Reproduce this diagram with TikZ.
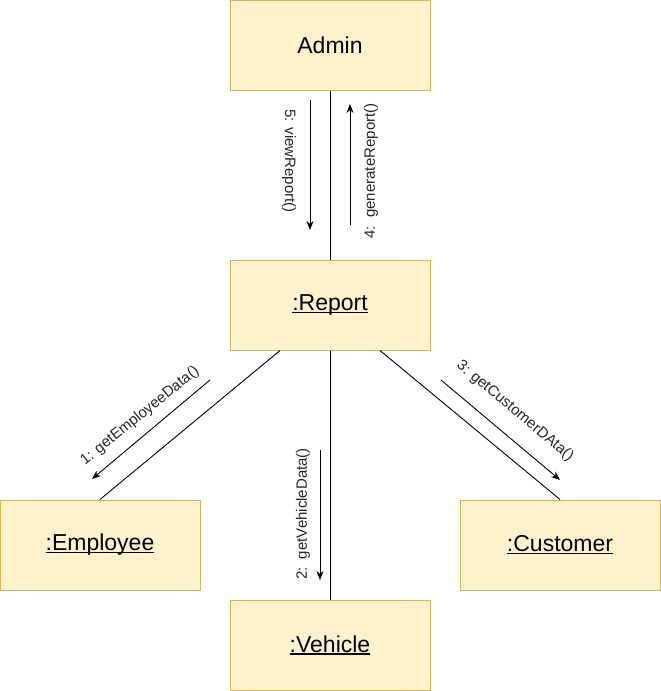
\documentclass[tikz,border=0pt]{standalone}
\usepackage{fontspec}
\setmainfont{Liberation Sans}
\usetikzlibrary{arrows.meta,calc}
\definecolor{boxfill}{HTML}{FFF2CC}
\definecolor{boxline}{HTML}{D6B656}
\newcommand\myul[1]{\setbox0\hbox{#1}\rlap{\rule[-2.5pt]{\wd0}{1.2pt}}\box0}
\begin{document}
\begin{tikzpicture}[x=1pt,y=-1pt,
  obj/.style={draw=boxline,fill=boxfill,line width=1pt,minimum width=200pt,minimum height=90pt,inner sep=0pt,font=\fontsize{23}{27}\selectfont},
  link/.style={draw=black,line width=0.9pt},
  msg/.style={draw=black,line width=0.9pt,-{Stealth[length=9pt,width=7pt]}},
  lbl/.style={font=\fontsize{15}{18}\selectfont,inner sep=0pt,text=black!85}]
\useasboundingbox (0,0) rectangle (661,691);
\node[obj] (adm) at (330,45) {Admin};
\node[obj] (rep) at (330,305) {\myul{:Report}};
\node[obj] (emp) at (100,545) {\myul{:Employee}};
\node[obj] (veh) at (330,645) {\myul{:Vehicle}};
\node[obj] (cus) at (560,545) {\myul{:Customer}};
% links
\draw[link] (adm.south) -- (rep.north);
\draw[link] ($(rep.south)+(-50,0)$) -- (emp.north);
\draw[link] (rep.south) -- (veh.north);
\draw[link] ($(rep.south)+(50,0)$) -- (cus.north);
% message arrows
\coordinate (m5a) at (310,100); \coordinate (m5b) at (310,230);
\coordinate (m4a) at (350,225); \coordinate (m4b) at (350,104);
\coordinate (m1a) at (210,380); \coordinate (m1b) at (92,479);
\coordinate (m2a) at (320,450); \coordinate (m2b) at (320,580);
\coordinate (m3a) at (441,380); \coordinate (m3b) at (560,480);
\draw[msg] (m5a) -- (m5b);
\draw[msg] (m4a) -- (m4b);
\draw[msg] (m1a) -- (m1b);
\draw[msg] (m2a) -- (m2b);
\draw[msg] (m3a) -- (m3b);
% labels
\node[lbl,rotate=-90] (l5) at (289,161) {5: viewReport()};
\node[lbl,rotate=90] (l4) at (371,171) {4:\ \ generateReport()};
\node[lbl,rotate=90] (l2) at (303,514) {2:\ \ getVehicleData()};
\node[lbl,rotate=39] (l1) at (140,416) {1: getEmployeeData()};
\node[lbl,rotate=-40] (l3) at (515,411) {3: getCustomerDAta()};
\end{tikzpicture}
\end{document}
